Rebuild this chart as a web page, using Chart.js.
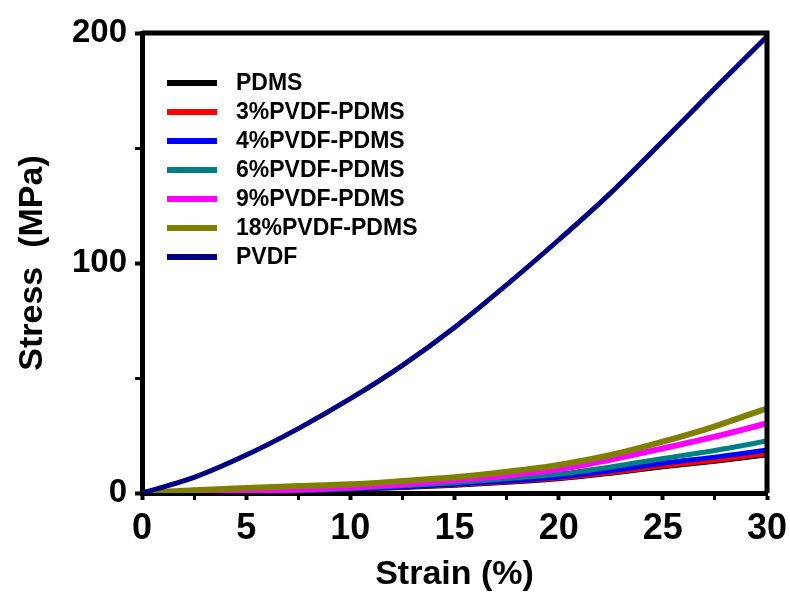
<!DOCTYPE html>
<html>
<head>
<meta charset="utf-8">
<script src="https://cdn.jsdelivr.net/npm/chart.js@4"></script>
<style>
    html, body { margin: 0; padding: 0; background: #fff; }
    #wrap { width: 790px; height: 595px; position: relative; }
</style>
</head>
<body>
<div id="wrap"><canvas id="stressChart"></canvas></div>
<script>
// Strain (%) sample points shared by every curve
const strain = [0, 2.5, 5, 7.5, 10, 12.5, 15, 17.5, 20, 22.5, 25, 27.5, 30];

// Stress (MPa) per sample
const pdms    = [0, 0.1, 0.3, 0.8, 1.4, 2.2, 3.2, 4.5, 6.0, 8.4, 11.2, 13.6, 16.4];
const pvdf3   = [0, 0.1, 0.3, 0.8, 1.5, 2.4, 3.4, 4.7, 6.3, 8.7, 11.6, 14.0, 17.0];
const pvdf4   = [0, 0.2, 0.4, 1.0, 1.7, 2.6, 3.8, 5.2, 7.0, 9.7, 12.9, 15.6, 18.7];
const pvdf6   = [0, 0.2, 0.5, 1.1, 2.0, 3.1, 4.5, 6.2, 8.2, 11.3, 15.0, 18.5, 22.6];
const pvdf9   = [0, 0.3, 0.8, 1.5, 2.5, 3.8, 5.5, 7.6, 10.3, 14.5, 19.4, 24.5, 30.3];
const pvdf18  = [0, 1.2, 2.2, 3.0, 3.8, 5.2, 6.8, 9.2, 12.2, 16.5, 22.3, 29.0, 36.8];
const pvdf    = [0, 6.8, 16.5, 28.0, 41.0, 55.5, 72.0, 90.5, 110.0, 130.5, 153.0, 176.0, 198.5];

const seriesNames  = ["PDMS", "3%PVDF-PDMS", "4%PVDF-PDMS", "6%PVDF-PDMS", "9%PVDF-PDMS", "18%PVDF-PDMS", "PVDF"];
const seriesValues = [pdms, pvdf3, pvdf4, pvdf6, pvdf9, pvdf18, pvdf];
const seriesColors = ["#000000", "#ff0000", "#0000ff", "#008080", "#ff00ff", "#808000", "#000080"];
const seriesWidths = [4, 4, 5, 5, 6, 6, 5];

const xTicks = [0, 5, 10, 15, 20, 25, 30];
const yTicks = [0, 100, 200];

const FONT = "'Liberation Sans', Arial, sans-serif";

const datasets = seriesNames.map((name, i) => ({
    label: name,
    data: strain.map((x, k) => ({ x, y: seriesValues[i][k] })),
    borderColor: seriesColors[i],
    backgroundColor: seriesColors[i],
    borderWidth: seriesWidths[i],
    pointRadius: 0,
    cubicInterpolationMode: "monotone",
    order: seriesNames.length - i, // later series paint on top
}));

// --- Box frame + in-plot legend ---
const frameAndLegend = {
    id: "frameAndLegend",
    afterDatasetsDraw(chart) {
        const { ctx, chartArea: a } = chart;
        ctx.save();
        ctx.strokeStyle = "#000";
        ctx.lineWidth = 5;
        ctx.beginPath();
        ctx.moveTo(a.left, a.top);
        ctx.lineTo(a.right, a.top);
        ctx.lineTo(a.right, a.bottom);
        ctx.stroke();

        ctx.font = `bold 23px ${FONT}`;
        ctx.textBaseline = "middle";
        ctx.fillStyle = "#000";
        seriesNames.forEach((name, i) => {
            const y = 83 + i * 29;
            ctx.strokeStyle = seriesColors[i];
            ctx.lineWidth = 6;
            ctx.beginPath();
            ctx.moveTo(167, y);
            ctx.lineTo(217, y);
            ctx.stroke();
            ctx.fillText(name, 236, y + 1);
        });
        ctx.restore();
    },
};

new Chart(document.getElementById("stressChart"), {
    type: "line",
    data: { datasets },
    plugins: [frameAndLegend],
    options: {
        responsive: true,
        maintainAspectRatio: false,
        animation: false,
        layout: { padding: { top: 33, right: 23, left: 0, bottom: 0 } },
        plugins: { legend: { display: false }, tooltip: { enabled: false } },
        scales: {
            x: {
                type: "linear",
                min: 0,
                max: 30,
                afterFit: (s) => { s.height = 102; s.paddingLeft = 0; s.paddingRight = 0; },
                border: { display: true, color: "#000", width: 5 },
                grid: {
                    drawOnChartArea: false,
                    tickLength: 7,
                    tickColor: "#000",
                    tickWidth: (c) => (xTicks.includes(c.tick.value) ? 4 : 3),
                },
                ticks: {
                    stepSize: 2.5,
                    autoSkip: false,
                    maxRotation: 0,
                    padding: 7,
                    color: "#000",
                    font: { family: FONT, size: 36, weight: "bold" },
                    callback: (v) => (xTicks.includes(v) ? String(v) : ""),
                },
                title: {
                    display: true,
                    text: "Strain (%)",
                    color: "#000",
                    font: { family: FONT, size: 34, weight: "bold" },
                    padding: { top: 0, bottom: 0 },
                },
            },
            y: {
                min: 0,
                max: 200,
                afterFit: (s) => { s.width = 142; s.paddingTop = 0; s.paddingBottom = 0; },
                border: { display: true, color: "#000", width: 5 },
                grid: {
                    drawOnChartArea: false,
                    tickLength: 7,
                    tickColor: "#000",
                    tickWidth: (c) => (yTicks.includes(c.tick.value) ? 4 : 3),
                },
                ticks: {
                    stepSize: 50,
                    autoSkip: false,
                    padding: 8,
                    color: "#000",
                    font: { family: FONT, size: 33, weight: "bold" },
                    callback: (v) => (yTicks.includes(v) ? String(v) : ""),
                },
                title: {
                    display: true,
                    text: "Stress  (MPa)",
                    color: "#000",
                    font: { family: FONT, size: 34, weight: "bold" },
                    padding: { top: 12, bottom: 0 },
                },
            },
        },
    },
});
</script>
</body>
</html>
